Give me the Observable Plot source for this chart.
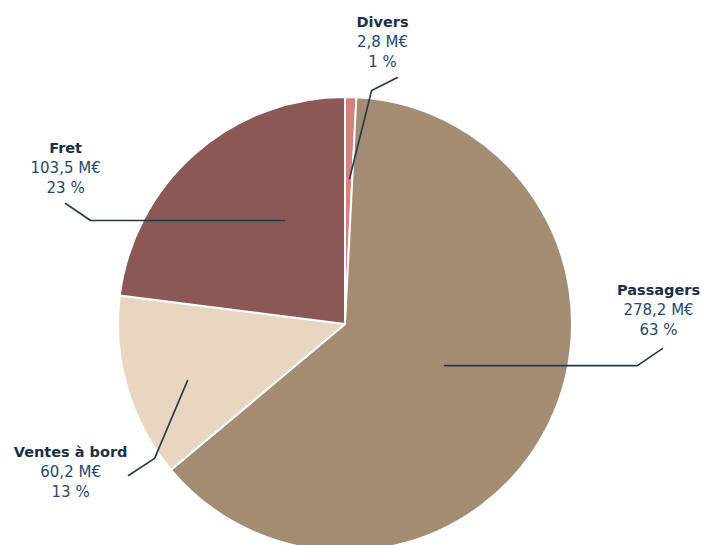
<!DOCTYPE html>
<html>
<head>
<meta charset="utf-8">
<script src="https://cdn.jsdelivr.net/npm/d3@7"></script>
<script src="https://cdn.jsdelivr.net/npm/@observablehq/plot@0.6"></script>
<style>
  html, body { margin: 0; padding: 0; background: #fff; }
  #chart { width: 706px; height: 545px; overflow: hidden; }
</style>
</head>
<body>
<div id="chart"></div>
<script>
// ---- Data (clockwise from 12 o'clock) ----
const categories = ["Divers", "Passagers", "Ventes à bord", "Fret"];
const revenues = [2.8, 278.2, 60.2, 103.5];          // M€
const sliceShares = [0.8, 63.1, 13.1, 23.0];          // slice sizes (%)
const revenueLabels = ["2,8 M€", "278,2 M€", "60,2 M€", "103,5 M€"];
const shareLabels = ["1 %", "63 %", "13 %", "23 %"];

// ---- Styles ----
const sliceColors = ["#d97f7c", "#a38c71", "#e8d6c0", "#8c5855"];
const nameColor = "#1a3048";
const valueColor = "#1f4a6e";
const leaderColor = "#1e3a52";

// ---- Label layout (pie units: centre 0,0, radius 1, y up) ----
const labelAnchors = [
  {x: 0.163, y: 1.330},
  {x: 1.379, y: 0.150},
  {x: -1.211, y: -0.564},
  {x: -1.233, y: 0.775}
];
const leaderPaths = [
  [[0.229, 1.088], [0.115, 1.031], [0.018, 0.643]],
  [[1.396, -0.106], [1.286, -0.181], [0.436, -0.181]],
  [[-0.956, -0.665], [-0.841, -0.590], [-0.696, -0.247]],
  [[-1.233, 0.533], [-1.123, 0.458], [-0.269, 0.458]]
];

const rows = categories.map((name, i) => ({
  name, revenue: revenues[i], share: sliceShares[i],
  valueLabel: revenueLabels[i], shareLabel: shareLabels[i],
  lx: labelAnchors[i].x, ly: labelAnchors[i].y
}));
const leaders = leaderPaths.flatMap((pts, i) => pts.map(([x, y]) => ({name: categories[i], x, y})));

const color = d3.scaleOrdinal(categories, sliceColors);

function pieMark(index, scales) {
  const cx = scales.x(0), cy = scales.y(0);
  const r = scales.x(1) - scales.x(0);
  const arcs = d3.pie().sort(null).value(d => d.share)(rows);
  const arc = d3.arc().innerRadius(0).outerRadius(r);
  const g = d3.create("svg:g").attr("transform", `translate(${cx},${cy})`);
  g.selectAll("path").data(arcs).join("path")
    .attr("d", arc)
    .attr("fill", d => color(d.data.name))
    .attr("stroke", "#fff")
    .attr("stroke-width", 2)
    .attr("stroke-linejoin", "round");
  return g.node();
}

const R = 227, CX = 345, CY = 324, W = 706, H = 545;

const chart = Plot.plot({
  width: W,
  height: H,
  margin: 0,
  style: {fontFamily: "'DejaVu Sans', sans-serif", background: "#fff", overflow: "hidden"},
  x: {domain: [-CX / R, (W - CX) / R], range: [0, W], axis: null},
  y: {domain: [(CY - H) / R, CY / R], range: [H, 0], axis: null},
  marks: [
    pieMark,
    Plot.line(leaders, {x: "x", y: "y", z: "name", stroke: leaderColor, strokeWidth: 1.6}),
    Plot.text(rows, {x: "lx", y: "ly", text: "name", fill: nameColor, fontWeight: "bold", fontSize: 14.5}),
    Plot.text(rows, {x: "lx", y: "ly", text: "valueLabel", fill: valueColor, fontSize: 15, dy: 20}),
    Plot.text(rows, {x: "lx", y: "ly", text: "shareLabel", fill: valueColor, fontSize: 15, dy: 40})
  ]
});
document.getElementById("chart").appendChild(chart);
</script>
</body>
</html>
